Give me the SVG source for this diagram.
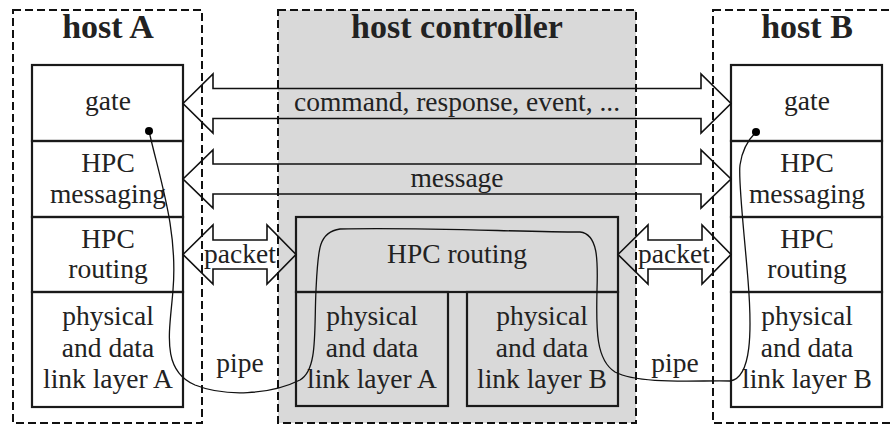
<svg xmlns="http://www.w3.org/2000/svg" width="891" height="425" viewBox="0 0 891 425">
<style>
.host{fill:none;stroke:#111;stroke-width:2;stroke-dasharray:8,4}
.ctrl{fill:#d9d9d9;stroke:#111;stroke-width:2;stroke-dasharray:8,4}
.box{fill:none;stroke:#1a1a1a;stroke-width:2.2}
.arr{fill:none;stroke:#111;stroke-width:1.6;stroke-linejoin:miter}
.pipe{fill:none;stroke:#111;stroke-width:1.3}
text{font-family:"Liberation Serif","Times New Roman",serif;fill:#222;text-anchor:middle}
.t{font-size:27.5px}
.h{font-size:34px;font-weight:bold}
</style>
<rect width="891" height="425" fill="#fff"/>
<g id="hostA">
<rect class="host" x="13" y="10" width="189" height="413"/>
<text class="h" x="108" y="38">host A</text>
</g>
<g id="hostController">
<rect class="ctrl" x="278" y="10" width="358" height="413"/>
<text class="h" x="457" y="38">host controller</text>
</g>
<g id="hostB">
<rect class="host" x="713" y="10" width="200" height="413"/>
<text class="h" x="807" y="38">host B</text>
</g>
<g id="A-gate"><rect class="box" x="32" y="65" width="151" height="76"/><text class="t" x="108" y="110">gate</text></g>
<g id="A-messaging"><rect class="box" x="32" y="141" width="151" height="76"/><text class="t" x="108" y="172">HPC</text><text class="t" x="108" y="203">messaging</text></g>
<g id="A-routing"><rect class="box" x="32" y="217" width="151" height="75"/><text class="t" x="108" y="248">HPC</text><text class="t" x="108" y="278">routing</text></g>
<g id="A-phys"><rect class="box" x="32" y="292" width="151" height="115"/><text class="t" x="108" y="325">physical</text><text class="t" x="108" y="357">and data</text><text class="t" x="108" y="388">link layer A</text></g>
<g id="B-gate"><rect class="box" x="731" y="65" width="151" height="76"/><text class="t" x="807" y="110">gate</text></g>
<g id="B-messaging"><rect class="box" x="731" y="141" width="151" height="76"/><text class="t" x="807" y="172">HPC</text><text class="t" x="807" y="203">messaging</text></g>
<g id="B-routing"><rect class="box" x="731" y="217" width="151" height="75"/><text class="t" x="807" y="248">HPC</text><text class="t" x="807" y="278">routing</text></g>
<g id="B-phys"><rect class="box" x="731" y="292" width="151" height="115"/><text class="t" x="807" y="325">physical</text><text class="t" x="807" y="357">and data</text><text class="t" x="807" y="388">link layer B</text></g>
<g id="C-routing"><rect class="box" x="296" y="217" width="322" height="75"/><text class="t" x="457" y="263">HPC routing</text></g>
<g id="C-physA"><rect class="box" x="296" y="292" width="152" height="114"/><text class="t" x="372" y="325">physical</text><text class="t" x="372" y="357">and data</text><text class="t" x="372" y="388">link layer A</text></g>
<g id="C-physB"><rect class="box" x="467" y="292" width="151" height="114"/><text class="t" x="542" y="325">physical</text><text class="t" x="542" y="357">and data</text><text class="t" x="542" y="388">link layer B</text></g>
<g id="connectors">
<polygon class="arr" points="183,103.5 213,74 213,88.5 701,88.5 701,74 731,103.5 701,133 701,118.5 213,118.5 213,133"/>
<text class="t" x="457" y="111">command, response, event, ...</text>
<polygon class="arr" points="183,179 213,150 213,164 701,164 701,150 731,179 701,208 701,194 213,194 213,208"/>
<text class="t" x="457" y="187">message</text>
<polygon class="arr" points="183,254.5 213,225 213,240 267,240 267,225 296,254.5 267,284 267,269 213,269 213,284"/>
<text class="t" x="240" y="263">packet</text>
<polygon class="arr" points="618,254.5 648,225 648,240 702,240 702,225 731,254.5 702,284 702,269 648,269 648,284"/>
<text class="t" x="674" y="263">packet</text>
<path class="pipe" d="M149,131 C160,180 178,230 173,290 C170,330 160,370 195,385 C225,397 270,395 300,380 C318,370 314,330 316,290 C318,250 318,232 340,229 C420,227 520,232 580,232 C598,234 598,260 597,290 C596,330 596,360 615,372 C640,385 700,380 730,381 C752,378 752,330 748,280 C744,230 738,180 740,165 C742,150 748,140 756,132"/>
<circle cx="149" cy="131" r="4" fill="#000"/>
<circle cx="756" cy="132" r="4" fill="#000"/>
<text class="t" x="240" y="372">pipe</text>
<text class="t" x="675" y="372">pipe</text>
</g>
</svg>
